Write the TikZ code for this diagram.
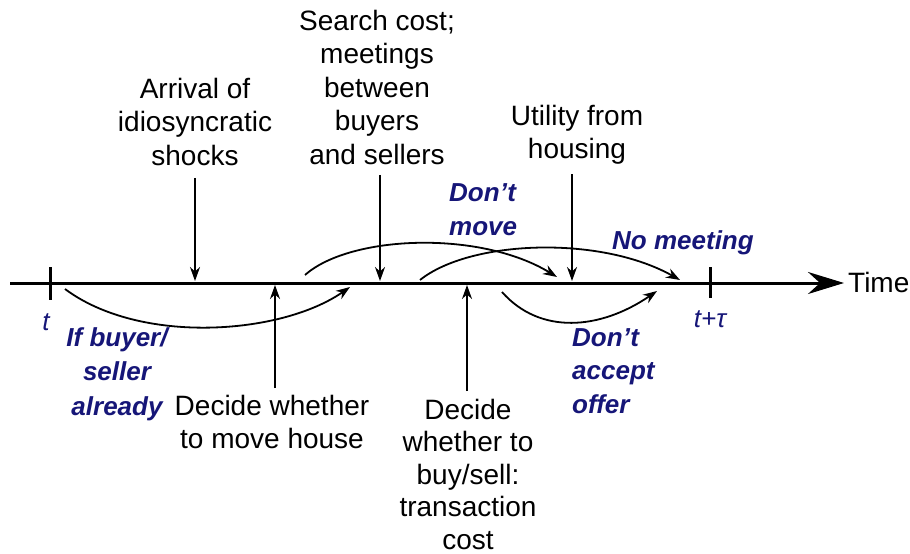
\documentclass[tikz,border=0pt]{standalone}
\usepackage{fontspec}
\setmainfont{Liberation Sans}
\usetikzlibrary{arrows.meta}
\definecolor{notecol}{RGB}{22,22,120}
\tikzset{
  lbl/.style={font=\fontsize{28}{33.5}\selectfont, align=center, inner sep=0pt},
  note/.style={font=\fontsize{26}{34.5}\selectfont\bfseries\itshape, text=notecol, inner sep=0pt},
  tlbl/.style={font=\fontsize{26}{28}\selectfont\itshape, text=notecol, inner sep=0pt},
  timeline/.style={line width=3pt, -{Stealth[length=36pt,width=22pt,inset=12pt]}},
  pointer/.style={line width=1.8pt, -{Stealth[length=14pt,width=10pt]}},
  tickmark/.style={line width=3pt}
}
\begin{document}
\begin{tikzpicture}[x=1pt,y=-1pt]
  \useasboundingbox (0,0) rectangle (910,554);
  % time axis
  \coordinate (origin) at (10,283);
  \node[lbl, anchor=west] (time) at (848,282) {Time};
  \draw[timeline, shorten >=4pt] (origin) -- (time.west |- origin);
  \coordinate (tstart) at (50,283);
  \coordinate (tend) at (710,283);
  \draw[tickmark] ([yshift=16pt]tstart) -- ([yshift=-17pt]tstart);
  \draw[tickmark] ([yshift=16pt]tend) -- ([yshift=-15pt]tend);
  \node[tlbl] (tlabel) at (46,322) {t};
  \node[tlbl] (taulabel) at (710,319) {t+τ};

  % events above the axis
  \node[lbl, anchor=north] (arrival) at (195,78) {Arrival of\\idiosyncratic\\shocks};
  \node[lbl, anchor=north] (search) at (377,10) {Search cost;\\meetings\\between\\buyers\\and sellers};
  \node[lbl, anchor=north] (utility) at (577,105) {Utility from\\housing};
  \coordinate (shock) at (195,281);
  \coordinate (meet) at (380,281);
  \coordinate (live) at (572,281);
  \draw[pointer, shorten <=12pt] (arrival.south -| shock) -- (shock);
  \draw[pointer, shorten <=10pt] (search.south -| meet) -- (meet);
  \draw[pointer, shorten <=9pt] (utility.south -| live) -- (live);

  % decisions below the axis
  \node[lbl, anchor=north] (decmove) at (272,395) {Decide whether\\to move house};
  \node[lbl, anchor=north, font=\fontsize{28}{32.5}\selectfont] (decbuy) at (468,399) {Decide\\whether to\\buy/sell:\\transaction\\cost};
  \coordinate (move) at (275,285);
  \coordinate (trade) at (467,285);
  \draw[pointer, shorten <=7pt] (decmove.north -| move) -- (move);
  \draw[pointer, shorten <=8pt] (decbuy.north -| trade) -- (trade);

  % skips
  \coordinate (skipa) at (65,289);
  \coordinate (skipb) at (350,287);
  \coordinate (staya) at (305,275);
  \coordinate (stayb) at (557,277);
  \coordinate (nomeeta) at (420,280);
  \coordinate (nomeetb) at (680,280);
  \coordinate (rejecta) at (502,292);
  \coordinate (rejectb) at (657,291);
  \draw[pointer] (skipa) .. controls (140,345) and (281,335) .. (skipb);
  \draw[pointer] (staya) .. controls (350,235) and (480,230) .. (stayb);
  \draw[pointer] (nomeeta) .. controls (470,240) and (600,235) .. (nomeetb);
  \draw[pointer] (rejecta) .. controls (540,335) and (600,330) .. (rejectb);

  \node[note, align=center, anchor=north] (already) at (117,327) {If buyer/\\seller\\already};
  \node[note, align=left, anchor=north west] (dontmove) at (449,183) {Don't\\move};
  \node[note, anchor=north west] (nomeet) at (612,230) {No meeting};
  \node[note, align=left, anchor=north west, font=\fontsize{26}{33.5}\selectfont\bfseries\itshape] (dontaccept) at (572,328) {Don't\\accept\\offer};
\end{tikzpicture}
\end{document}
